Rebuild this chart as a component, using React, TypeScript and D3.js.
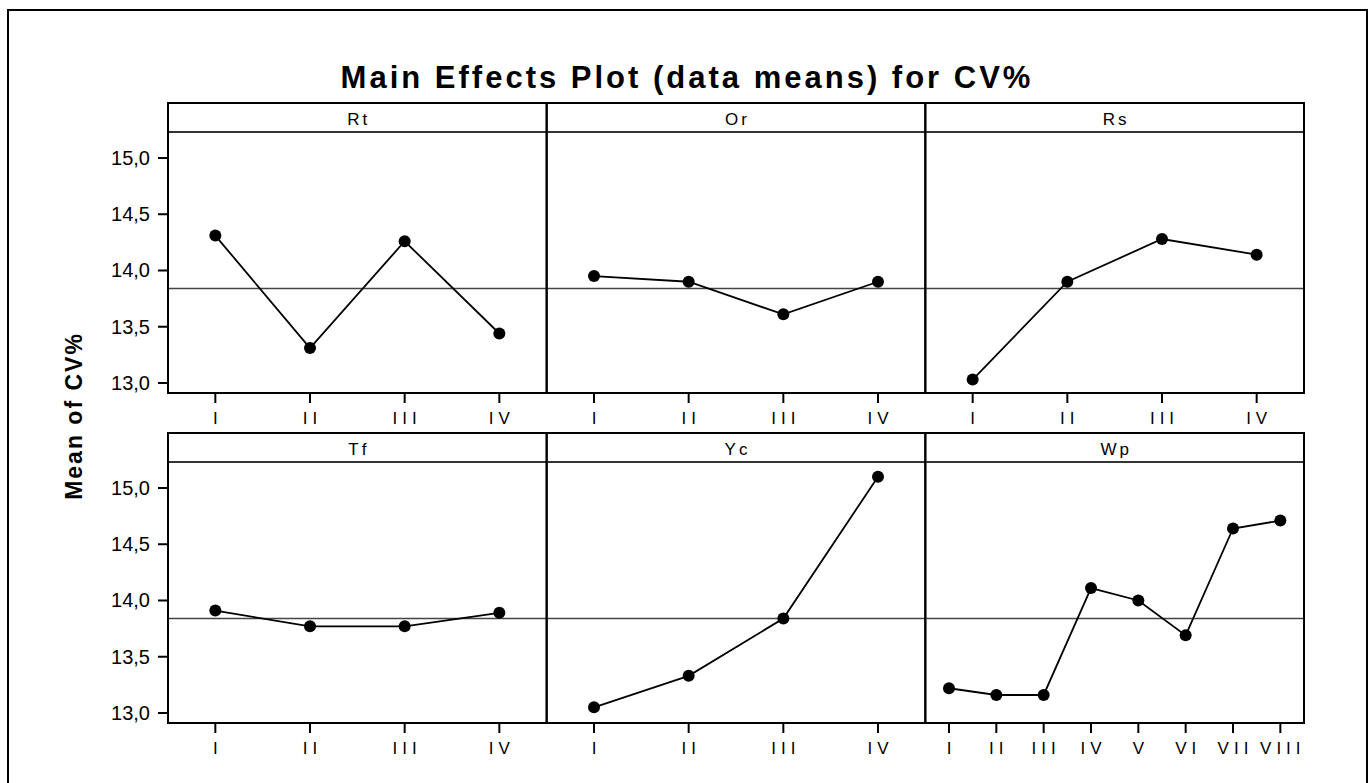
import React from "react";
import * as d3 from "d3";

// factor names and level labels
const factors = ["Rt", "Or", "Rs", "Tf", "Yc", "Wp"];
const levels4 = ["I", "II", "III", "IV"];
const levels8 = ["I", "II", "III", "IV", "V", "VI", "VII", "VIII"];

// level means of CV%
const rtMeans = [14.31, 13.31, 14.26, 13.44];
const orMeans = [13.95, 13.9, 13.61, 13.9];
const rsMeans = [13.03, 13.9, 14.28, 14.14];
const tfMeans = [13.91, 13.77, 13.77, 13.89];
const ycMeans = [13.05, 13.33, 13.84, 15.1];
const wpMeans = [13.22, 13.16, 13.16, 14.11, 14.0, 13.69, 14.64, 14.71];

const grandMean = 13.84;
const yTicks = [13.0, 13.5, 14.0, 14.5, 15.0];
const yDomain = [12.911, 15.231];

const panelData = [
  { name: factors[0], levels: levels4, means: rtMeans },
  { name: factors[1], levels: levels4, means: orMeans },
  { name: factors[2], levels: levels4, means: rsMeans },
  { name: factors[3], levels: levels4, means: tfMeans },
  { name: factors[4], levels: levels4, means: ycMeans },
  { name: factors[5], levels: levels8, means: wpMeans },
];

const W = 1372;
const H = 783;
const left = 168;
const right = 1304;
const colW = (right - left) / 3;
const headerH = 29;
const rowTop = [103, 433];
const rowBottom = [393, 723];
const font = "'Liberation Sans', Arial, sans-serif";

const fmt = (v: number) => v.toFixed(1).replace(".", ",");

const Panel = ({ p, col, row }: any) => {
  const x0 = left + col * colW;
  const x1 = x0 + colW;
  const top = rowTop[row];
  const bottom = rowBottom[row];
  const x = d3.scalePoint<string>().domain(p.levels).range([x0, x1]).padding(0.5);
  const y = d3.scaleLinear().domain(yDomain).range([bottom, top + headerH]);
  const line = d3
    .line<number>()
    .x((_, i) => x(p.levels[i]) as number)
    .y((d) => y(d));

  return (
    <g>
      {/* header strip */}
      <line x1={x0} x2={x1} y1={top + headerH} y2={top + headerH} stroke="#333" strokeWidth={2} />
      <text
        x={(x0 + x1) / 2 + 1.5}
        y={top + 22}
        textAnchor="middle"
        fontSize={17}
        letterSpacing={3}
        fontFamily={font}
      >
        {p.name}
      </text>
      {/* reference line */}
      <line x1={x0} x2={x1} y1={y(grandMean)} y2={y(grandMean)} stroke="#444" strokeWidth={1.5} />
      <path d={line(p.means) || ""} fill="none" stroke="#000" strokeWidth={1.8} />
      {p.means.map((m: number, i: number) => (
        <circle key={i} cx={x(p.levels[i])} cy={y(m)} r={6} fill="#000" />
      ))}
      {/* x ticks */}
      {p.levels.map((l: string) => (
        <g key={l}>
          <line x1={x(l)} x2={x(l)} y1={bottom} y2={bottom + 10} stroke="#000" strokeWidth={2} />
          <text
            x={(x(l) as number) + 2.5}
            y={bottom + 31}
            textAnchor="middle"
            fontSize={17}
            letterSpacing={5}
            fontFamily={font}
          >
            {l}
          </text>
        </g>
      ))}
      <rect x={x0} y={top} width={colW} height={bottom - top} fill="none" stroke="#000" strokeWidth={2} />
      {/* y axis on the first column */}
      {col === 0 &&
        yTicks.map((t) => (
          <g key={t}>
            <line x1={x0 - 10} x2={x0} y1={y(t)} y2={y(t)} stroke="#000" strokeWidth={2} />
            <text
              x={x0 - 18}
              y={y(t) + 7}
              textAnchor="end"
              fontSize={20}
              fontFamily={font}
            >
              {fmt(t)}
            </text>
          </g>
        ))}
    </g>
  );
};

const App = () => {
  return (
    <svg
      width={W}
      height={H}
      style={{ position: "absolute", left: 0, top: 0, background: "#fff" }}
    >
      <rect x={8} y={10} width={1359} height={H + 20} fill="none" stroke="#000" strokeWidth={2} />
      <text
        x={687}
        y={88}
        textAnchor="middle"
        fontSize={31}
        fontWeight="bold"
        letterSpacing={3}
        fontFamily={font}
      >
        Main Effects Plot (data means) for CV%
      </text>
      <text
        transform={`translate(82,416) rotate(-90)`}
        textAnchor="middle"
        fontSize={23}
        fontWeight="bold"
        letterSpacing={2}
        fontFamily={font}
      >
        Mean of CV%
      </text>
      {panelData.map((p, i) => (
        <Panel key={p.name} p={p} col={i % 3} row={Math.floor(i / 3)} />
      ))}
    </svg>
  );
};

export default App;
